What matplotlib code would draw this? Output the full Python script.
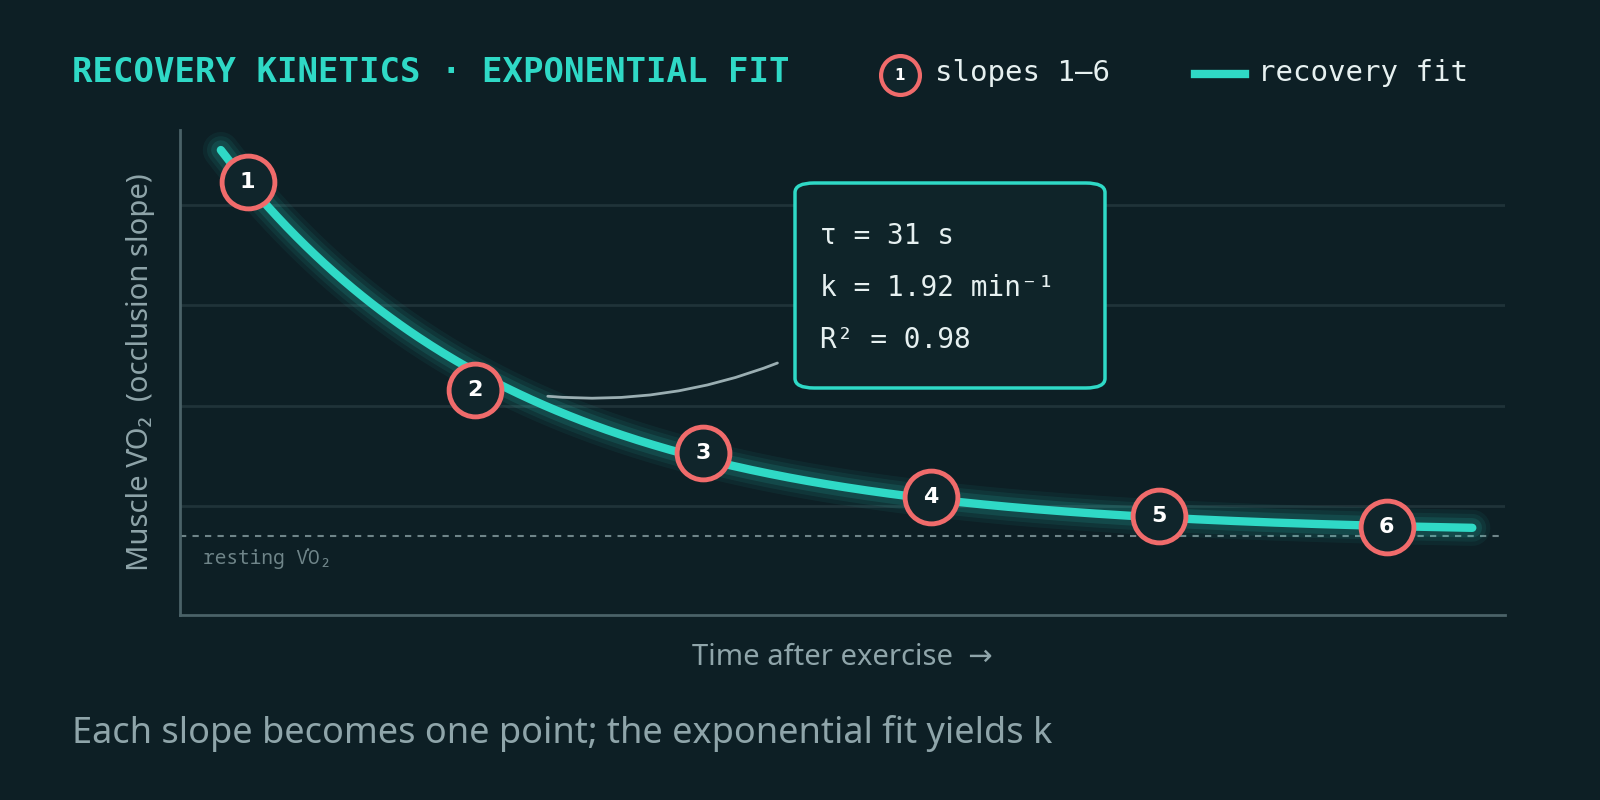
import numpy as np
import matplotlib
matplotlib.use("Agg")
import matplotlib.pyplot as plt
from matplotlib.patches import FancyBboxPatch, FancyArrowPatch
from matplotlib.lines import Line2D

# data
slope_labels = ["1", "2", "3", "4", "5", "6"]
slope_time = [6.4, 28.0, 49.6, 71.2, 92.8, 114.4]   # s
slope_vo2 = [4.23, 2.16, 1.53, 1.09, 0.90, 0.79]
resting_vo2 = 0.70
fit_start_value = 4.55
fit_t_end = 122.5
stats_lines = ["τ = 31 s", "k = 1.92 min⁻¹", "R² = 0.98"]
grid_levels = [1, 2, 3, 4]

BG = "#0d1f25"
TEAL = "#2fd9c6"
CORAL = "#f06b6b"
GREY = "#8fa5aa"
SANS = ["Noto Sans", "DejaVu Sans"]

# exponential fit (grid search over asymptote, log-linear for the rest)
t = np.array(slope_time); y = np.array(slope_vo2)
best = None
for c in np.linspace(0.0, 0.78, 300):
    b, a = np.polyfit(t, np.log(y - c), 1)
    r = np.sum((c + np.exp(a + b * t) - y) ** 2)
    if best is None or r < best[0]:
        best = (r, c, a, b)
_, c, a, b = best
t0 = (np.log(fit_start_value - c) - a) / b
tt = np.linspace(t0, fit_t_end, 400)
yy = c + np.exp(a + b * tt)

fig = plt.figure(figsize=(16, 8), dpi=100, facecolor=BG)
ax = fig.add_axes([180/1600, 1-615/800, 1325/1600, 485/800])
ax.set_facecolor(BG)
ax.set_xlim(0, 125.6)
ax.set_ylim(-0.09, 4.75)
for s in ["top", "right"]:
    ax.spines[s].set_visible(False)
for s in ["left", "bottom"]:
    ax.spines[s].set_color("#4a6268"); ax.spines[s].set_linewidth(2)
ax.set_xticks([]); ax.set_yticks([])
for g in grid_levels:
    ax.axhline(g, color="#1f3339", lw=2, zorder=1)
ax.axhline(resting_vo2, color="#6f8589", lw=1.5, ls=(0, (3, 3)), zorder=2)
ax.text(2.2, resting_vo2 - 0.12, "resting V\u0307O₂", family=["Noto Sans Mono", "DejaVu Sans Mono"],
        fontsize=14, color="#6f8589", va="top")

for w, al in [(26, 0.06), (20, 0.08), (14, 0.12)]:
    ax.plot(tt, yy, color=TEAL, lw=w, alpha=al, solid_capstyle="round", zorder=3)
ax.plot(tt, yy, color=TEAL, lw=6, solid_capstyle="round", zorder=4)

for lab, tx, vy in zip(slope_labels, slope_time, slope_vo2):
    ax.plot(tx, vy, "o", ms=38, mfc="#10252b", mec=CORAL, mew=3.5, zorder=6)
    ax.text(tx, vy, lab, ha="center", va="center", color="white",
            fontsize=16, fontweight="bold", zorder=7)

ax.set_ylabel("Muscle V\u0307O₂  (occlusion slope)", color=GREY, fontsize=21, labelpad=18,
              family=SANS)
ax.set_xlabel("Time after exercise  →", color=GREY, fontsize=21, labelpad=20, family=SANS)

# stats box
fig.patches.append(FancyBboxPatch((795/1600, 1-388/800), 310/1600, 205/800,
                   boxstyle="round,pad=0,rounding_size=0.012", transform=fig.transFigure,
                   fc="#0f2429", ec=TEAL, lw=2.5, zorder=5))
for i, s in enumerate(stats_lines):
    fig.text(820/1600, 1-(236+52*i)/800, s, family="DejaVu Sans Mono", fontsize=20,
             color="#e6f0f0", va="center", zorder=6)
fig.patches.append(FancyArrowPatch((545/1600, 1-396/800), (780/1600, 1-362/800),
                   transform=fig.transFigure, connectionstyle="arc3,rad=0.12",
                   arrowstyle="-", color="#9aaeb2", lw=2, zorder=5))

# title and legend
fig.text(72/1600, 1-73/800, "RECOVERY KINETICS · EXPONENTIAL FIT", family="DejaVu Sans Mono",
         fontweight="bold", fontsize=24.5, color=TEAL, va="center")
fig.add_artist(Line2D([900/1600], [1-75/800], marker="o", ms=28, mfc="#10252b", mec=CORAL,
                      mew=3, transform=fig.transFigure))
fig.text(900/1600, 1-75/800, "1", ha="center", va="center", color="white", fontsize=11,
         fontweight="bold")
fig.text(935/1600, 1-73/800, "slopes 1–6", family="DejaVu Sans Mono", fontsize=21,
         color="#e6f0f0", va="center")
fig.add_artist(Line2D([1195/1600, 1245/1600], [1-74/800]*2, color=TEAL, lw=6,
                      transform=fig.transFigure))
fig.text(1258/1600, 1-73/800, "recovery fit", family="DejaVu Sans Mono", fontsize=21,
         color="#e6f0f0", va="center")

fig.text(72/1600, 1-733/800, "Each slope becomes one point; the exponential fit yields k",
         fontsize=26, color=GREY, va="center", family=SANS)

fig.savefig("out.png", facecolor=BG)
